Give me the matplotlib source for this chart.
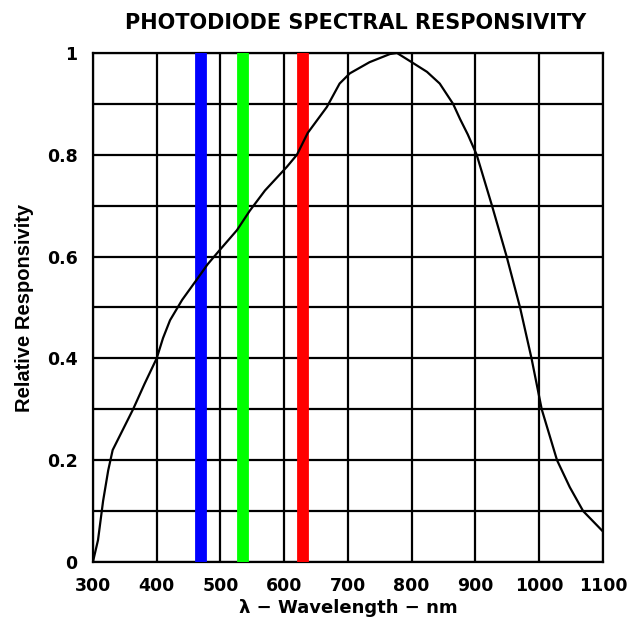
import matplotlib.pyplot as plt
import numpy as np

# responsivity curve
wavelength = [300, 308, 316, 324, 331, 347, 363, 381, 400, 410, 421, 440, 463, 480,
              499, 526, 546, 570, 604, 620, 637, 667, 687, 703, 734, 766, 777, 800,
              824, 844, 865, 876, 888, 902, 926, 949, 970, 988, 1004, 1028, 1048,
              1069, 1100]
response = [0.0, 0.043, 0.12, 0.18, 0.22, 0.26, 0.30, 0.35, 0.40, 0.44, 0.475, 0.515,
            0.555, 0.585, 0.613, 0.652, 0.69, 0.73, 0.776, 0.80, 0.843, 0.894, 0.94,
            0.96, 0.982, 0.998, 1.0, 0.982, 0.963, 0.94, 0.90, 0.87, 0.84, 0.80,
            0.70, 0.60, 0.50, 0.40, 0.30, 0.20, 0.147, 0.10, 0.06]

band_nm = [469, 536, 629]
band_colors = ['#0000ff', '#00ff00', '#ff0000']

plt.rcParams['font.family'] = ['DejaVu Sans']
plt.rcParams['font.weight'] = 'bold'

fig = plt.figure(figsize=(6.32, 6.25), dpi=100)
ax = fig.add_axes([0.147, 0.1008, 0.807, 0.8144])

ax.set_xlim(300, 1100)
ax.set_ylim(0, 1)
ax.set_xticks(np.arange(300, 1101, 100))
ax.set_yticks([0, 0.2, 0.4, 0.6, 0.8, 1.0])
ax.set_yticklabels(['0', '0.2', '0.4', '0.6', '0.8', '1'])
ax.set_yticks(np.arange(0.1, 1.0, 0.2), minor=True)
ax.grid(True, which='both', color='black', linewidth=1.6)
ax.tick_params(which='both', length=0, labelsize=12.5)
ax.tick_params(axis='x', pad=11)
ax.tick_params(axis='y', pad=11)
for s in ax.spines.values():
    s.set_linewidth(1.6)

for nm, c in zip(band_nm, band_colors):
    ax.axvline(nm, color=c, linewidth=8.5, zorder=3)

ax.plot(wavelength, response, color='black', linewidth=1.6, zorder=4)

fig.text(0.562, 0.963, 'PHOTODIODE SPECTRAL RESPONSIVITY', fontsize=15,
         fontweight='bold', ha='center', va='center')
ax.set_xlabel('λ − Wavelength − nm', fontsize=13, fontweight='bold', labelpad=3)
ax.set_ylabel('Relative Responsivity', fontsize=14.5, fontweight='bold',
              family='Liberation Sans', labelpad=9)

plt.savefig('out.png', dpi=100)
